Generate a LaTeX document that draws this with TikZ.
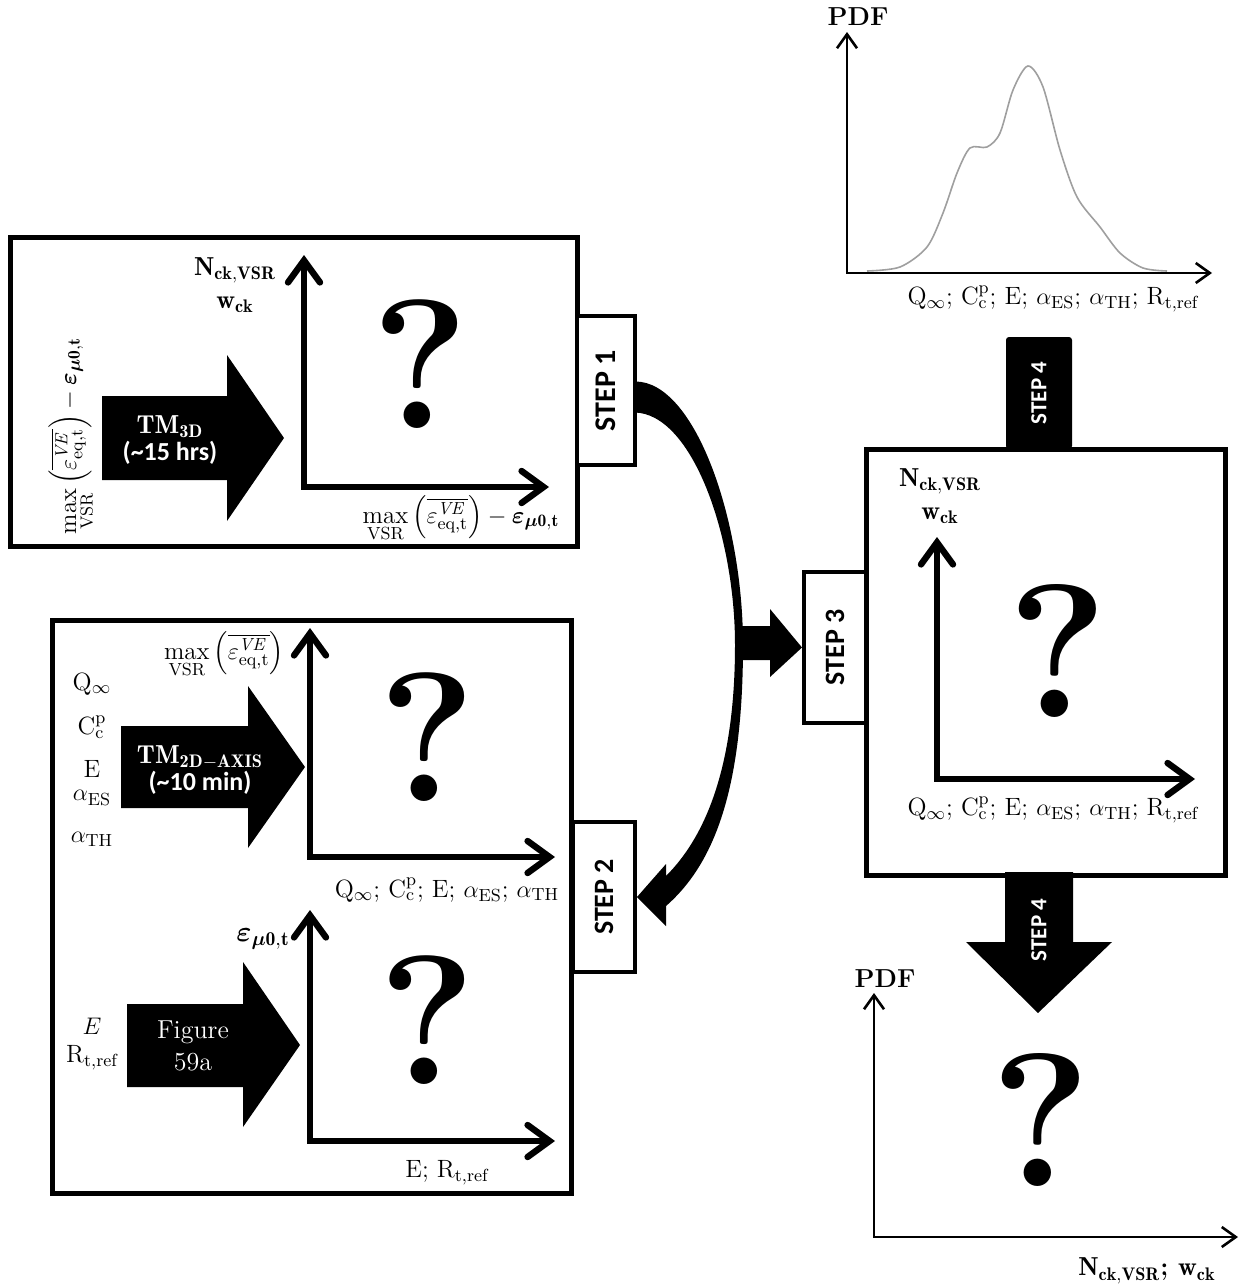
\documentclass[tikz,border=0pt]{standalone}
\usepackage{amsmath}
\usepackage{fontspec}
\newfontfamily\carlito{Carlito}
\usetikzlibrary{arrows.meta,calc}

\newcommand{\fsz}[1]{\fontsize{#1}{1.2\dimexpr#1pt\relax}\selectfont}
\newcommand{\epsve}{\overline{\varepsilon^{\mathit{VE}}_{\mathrm{eq,t}}}}
\newcommand{\epszero}{\boldsymbol{\varepsilon}_{\boldsymbol{\mu}\mathbf{0,t}}}
\newcommand{\maxvsr}{\max\limits_{\mathrm{VSR}}}
\newcommand{\params}{Q$_\infty$; C$^{\mathrm{p}}_{\mathrm{c}}$; E; $\alpha_{\mathrm{ES}}$; $\alpha_{\mathrm{TH}}$}

\begin{document}
\begin{tikzpicture}[x=0.5pt,y=-0.5pt,
  panel/.style={draw,line width=2.5pt,inner sep=0pt},
  steptab/.style={draw,fill=white,line width=2pt,inner sep=0pt,font=\carlito\bfseries\fsz{14}},
  darktab/.style={fill=black,text=white,inner sep=0pt,font=\carlito\bfseries\fsz{11.5}},
  lab/.style={inner sep=0.5pt,font=\fsz{12.5}},
  bold/.style={inner sep=0.5pt,font=\bfseries\fsz{13}},
  bigq/.style={inner sep=0pt,font=\bfseries\fsz{92}},
  runtext/.style={text=white,align=center,inner sep=0pt,font=\fsz{13}},
  axis/.style={line width=3.2pt,>={Straight Barb[length=11pt,width=16pt,line cap=round]},<->},
  thinaxis/.style={line width=1.3pt,>={Straight Barb[length=7pt,width=10pt]},<->}]
\useasboundingbox (0,0) rectangle (1240,1285);

% panels and step tabs
\node[panel,minimum width=283.5pt,minimum height=154.5pt] (box1) at (293.5,391.5) {};
\node[panel,minimum width=259.5pt,minimum height=286.5pt] (box2) at (312,906.5) {};
\node[panel,minimum width=179.5pt,minimum height=213pt] (box3) at (1045.5,662) {};
\node[steptab,minimum width=29pt,minimum height=74.5pt,font=\carlito\bfseries\fsz{15}] (tab1) at (606,390.5) {\rotatebox{90}{STEP 1}};
\node[steptab,minimum width=31pt,minimum height=75pt] (tab2) at (604,897) {\rotatebox{90}{STEP 2}};
\node[steptab,minimum width=31pt,minimum height=75.5pt] (tab3) at (835,647.5) {\rotatebox{90}{STEP 3}};
\node[darktab,rounded corners=1.5pt,minimum width=33pt,minimum height=56pt] (tab4) at (1039,393) {\rotatebox{90}{STEP 4}};

% step 1 -> step 2, branch to step 3
\fill ($(tab1.east)+(-2,-9)$) .. controls (695,381) and (743,520) .. (743,645)
  .. controls (743,790) and (714,864) .. (666,906) -- (666,926) -- (tab2.east)
  -- (666,864) -- (666,876) .. controls (704,838) and (735,770) .. (735,645)
  .. controls (735,535) and (692,414) .. ($(tab1.east)+(-2,22)$) -- cycle;
\fill (738,626) -- (770,626) -- (770,609) -- (tab3.west) -- (770,677) -- (770,660) -- (738,660) -- cycle;

% step 4 down arrow
\fill (1005,872) -- (1073,872) -- (1073,942) -- (1112,942) -- (1038,1013) -- (966,942) -- (1005,942) -- cycle;
\node[darktab,fill=none] (step4b) at (1039,930) {\rotatebox{90}{STEP 4}};

% box 1
\fill (102,396) -- (227,396) -- (227,355) -- (284,438) -- (227,521) -- (227,480) -- (102,480) -- cycle;
\node[runtext] (tm3d) at (170,440) {$\mathbf{TM}_{\mathbf{3D}}$\\[-2pt]{\carlito\bfseries(\char`\~15 hrs)}};
\node[lab,rotate=90] (in1) at (72,436) {$\maxvsr\left(\epsve\right)-\epszero$};
\coordinate (o1) at (304,487);
\draw[axis] (o1 |- 0,255) -- (o1) -- (549,487);
\node[bold,align=center] (y1) at (235,285) {$\mathbf{N}_{\mathbf{ck,VSR}}$\\[1pt]$\mathbf{w}_{\mathbf{ck}}$};
\node[lab] (x1) at (461,519) {$\maxvsr\left(\epsve\right)-\epszero$};
\node[bigq] (q1) at (420,364) {?};

% box 2, upper
\fill (121,726) -- (248,726) -- (248,686) -- (305,767) -- (248,848) -- (248,808) -- (121,808) -- cycle;
\node[runtext] (tm2d) at (200,770) {$\mathbf{TM}_{\mathbf{2D-AXIS}}$\\[-2pt]{\carlito\bfseries(\char`\~10 min)}};
\node[lab] (in2a) at (92,684) {Q$_\infty$};
\node[lab] (in2b) at (92,727) {C$^{\mathrm{p}}_{\mathrm{c}}$};
\node[lab] (in2c) at (92,769) {E};
\node[lab] (in2d) at (92,798) {$\alpha_{\mathrm{ES}}$};
\node[lab] (in2e) at (92,839) {$\alpha_{\mathrm{TH}}$};
\coordinate (o2) at (310,857);
\draw[axis] (o2 |- 0,628) -- (o2) -- (555,857);
\node[lab] (y2) at (224,655) {$\maxvsr\left(\epsve\right)$};
\node[lab] (x2) at (447,890) {\params};
\node[bigq] (q2) at (427,737) {?};

% box 2, lower
\fill (127,1004) -- (243,1004) -- (243,962) -- (300,1045) -- (243,1127) -- (243,1087) -- (127,1087) -- cycle;
\node[runtext] (fig) at (193,1046) {Figure\\59a};
\node[lab] (in3a) at (92,1026) {$E$};
\node[lab] (in3b) at (92,1058) {R$_{\mathrm{t,ref}}$};
\coordinate (o3) at (310,1141);
\draw[axis] (o3 |- 0,910) -- (o3) -- (555,1141);
\node[lab,font=\fsz{14}] (y3) at (263,939) {$\epszero$};
\node[lab] (x3) at (447,1173) {E; R$_{\mathrm{t,ref}}$};
\node[bigq] (q3) at (427,1020) {?};

% box 3
\coordinate (o4) at (937,779);
\draw[axis] (o4 |- 0,537) -- (o4) -- (1195,779);
\node[bold,align=center] (y4) at (940,496) {$\mathbf{N}_{\mathbf{ck,VSR}}$\\[1pt]$\mathbf{w}_{\mathbf{ck}}$};
\node[lab] (x4) at (1053,810) {\params; R$_{\mathrm{t,ref}}$};
\node[bigq,font=\bfseries\fsz{95}] (q4) at (1058,651) {?};

% input pdf
\coordinate (o5) at (847,273);
\draw[thinaxis] (o5 |- 0,32) -- (o5) -- (1212,273);
\node[bold] (pdf1) at (858,17) {PDF};
\node[lab] (x5) at (1053,299) {\params; R$_{\mathrm{t,ref}}$};
\draw[gray!75,line width=0.8pt] plot[smooth] coordinates {(867,271) (900,267) (927,247) (943,213)
  (957,173) (970,148) (987,147) (1000,133) (1013,90) (1028,66) (1043,87) (1060,150)
  (1077,197) (1100,227) (1120,253) (1143,268) (1167,271)};

% output pdf
\coordinate (o6) at (874,1237);
\draw[thinaxis] (o6 |- 0,993) -- (o6) -- (1238,1237);
\node[bold] (pdf2) at (885,979) {PDF};
\node[bold] (x6) at (1147,1271) {$\mathbf{N}_{\mathbf{ck,VSR}}$; $\mathbf{w}_{\mathbf{ck}}$};
\node[bigq,font=\bfseries\fsz{95}] (q6) at (1041,1120) {?};
\end{tikzpicture}
\end{document}
